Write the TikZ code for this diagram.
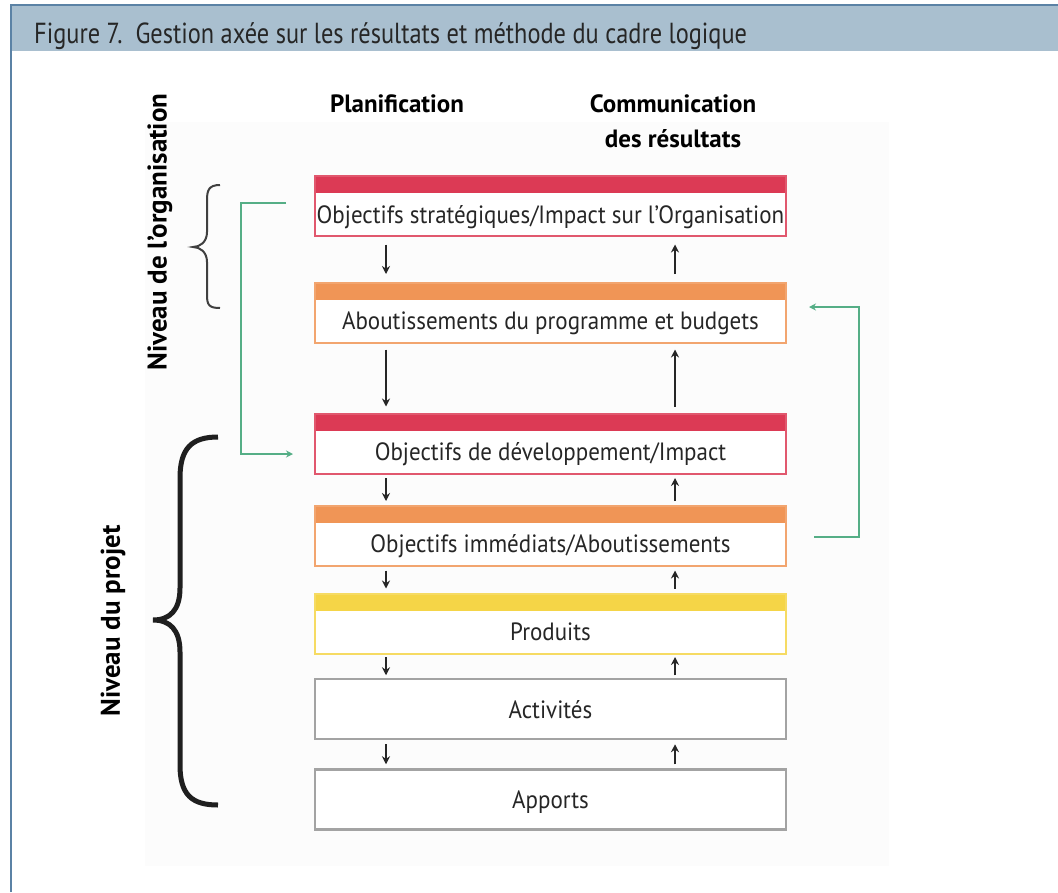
\documentclass[tikz,border=0pt]{standalone}
\usepackage{fontspec}
\setmainfont{PT Sans}
\newfontfamily\titlefont[FakeStretch=0.84]{PT Sans}
\newfontfamily\boxfont[FakeStretch=0.92]{PT Sans}
\usetikzlibrary{arrows.meta}
\definecolor{framebl}{HTML}{5B82A5}
\definecolor{headbg}{HTML}{A9BFCF}
\definecolor{panelbg}{HTML}{FCFCFC}
\definecolor{stratred}{HTML}{DC3A55}
\definecolor{progorange}{HTML}{F09556}
\definecolor{prodyellow}{HTML}{F5D547}
\definecolor{boxgrey}{HTML}{A3A3A3}
\definecolor{linkgreen}{HTML}{55AE86}
\definecolor{txtgrey}{HTML}{262626}

\begin{document}
\begin{tikzpicture}[x=1pt,y=-1pt]
		\tikzstyle{every node}+=[inner sep=0pt, text=txtgrey]
		\tikzset{
			level/.style={draw=#1!85, line width=2pt, fill=white, minimum width=471pt,
				text height=47pt, text depth=13pt, font=\boxfont\fontsize{25}{28}\selectfont,
				path picture={\fill[#1] (path picture bounding box.north west) rectangle ([yshift=-17pt]path picture bounding box.north east);}},
			plainlevel/.style={draw=boxgrey, line width=2.5pt, fill=white, minimum width=471pt,
				text height=39pt, text depth=21pt, font=\boxfont\fontsize{25}{28}\selectfont},
			heading/.style={font=\bfseries\fontsize{25}{35}\selectfont, text=black, align=center},
			sidelabel/.style={font=\bfseries\fontsize{27}{30}\selectfont, text=black, rotate=90},
			flow/.style={-{Stealth[length=8pt,width=8pt]}, line width=2pt, draw=txtgrey, shorten <=#1, shorten >=#1},
			flow/.default=4pt,
			link/.style={-{Stealth[length=7pt,width=7pt]}, line width=2pt, draw=linkgreen}
		}
		\useasboundingbox (0,0) rectangle (1058,892);
		% frame and title band
		\fill [headbg] (11,5) rectangle (1058,51);
		\draw [framebl, line width=2pt] (11,892) -- (11,5) -- (1058,5);
		\node [anchor=base west, font=\titlefont\fontsize{29}{32}\selectfont] (title) at (34,43) {Figure 7.~~Gestion axée sur les résultats et méthode du cadre logique};
		\fill [panelbg] (145,122) rectangle (889,866);
		% column headings
		\node [heading] (plan) at (397,104) {Planification};
		\node [heading] (comm) at (673,121) {Communication\\des résultats};
		% levels
		\node [level=stratred] (strat) at (550.5,206) {Objectifs stratégiques/Impact sur l’Organisation};
		\node [level=progorange] (progr) at (550.5,312.5) {Aboutissements du programme et budgets};
		\node [level=stratred] (devel) at (550.5,443.5) {Objectifs de développement/Impact};
		\node [level=progorange] (immed) at (550.5,535.5) {Objectifs immédiats/Aboutissements};
		\node [level=prodyellow] (produ) at (550.5,623.5) {Produits};
		\node [plainlevel] (activ) at (550.5,709) {Activités};
		\node [plainlevel] (appor) at (550.5,799.5) {Apports};
		% planning down, reporting up
		\coordinate (pl) at (386,0);
		\coordinate (co) at (675,0);
		\draw [flow=7.5pt] (strat.south -| pl) -- (progr.north -| pl);
		\draw [flow=7.5pt] (progr.north -| co) -- (strat.south -| co);
		\draw [flow=6pt] (progr.south -| pl) -- (devel.north -| pl);
		\draw [flow=6pt] (devel.north -| co) -- (progr.south -| co);
		\draw [flow=3.5pt] (devel.south -| pl) -- (immed.north -| pl);
		\draw [flow=3.5pt] (immed.north -| co) -- (devel.south -| co);
		\draw [flow] (immed.south -| pl) -- (produ.north -| pl);
		\draw [flow] (produ.north -| co) -- (immed.south -| co);
		\draw [flow=2.5pt] (produ.south -| pl) -- (activ.north -| pl);
		\draw [flow=2.5pt] (activ.north -| co) -- (produ.south -| co);
		\draw [flow] (activ.south -| pl) -- (appor.north -| pl);
		\draw [flow] (appor.north -| co) -- (activ.south -| co);
		% green links
		\coordinate (gstart) at ([shift={(-28,-3)}]strat.west);
		\coordinate (gend) at ([shift={(-21,10.5)}]devel.west);
		\draw [link] (gstart) -- (241,203) |- (gend);
		\coordinate (rstart) at ([shift={(27,1.5)}]immed.east);
		\coordinate (rend) at ([shift={(22,-5.5)}]progr.east);
		\draw [link] (rstart) -- (859,537) |- (rend);
		% braces
		\draw [black!75, line width=2pt] (220,185) .. controls (209,185) and (207,190) .. (207,200) -- (207,232) .. controls (207,242) and (200,247) .. (193,247) .. controls (200,247) and (207,252) .. (207,262) -- (207,295) .. controls (207,305) and (209,308) .. (220,308);
		\draw [black!88, line width=5pt] (218,437) .. controls (192,437) and (180,448) .. (180,478) -- (180,588) .. controls (180,610) and (170,620) .. (153,620) .. controls (170,620) and (180,630) .. (180,652) -- (180,765) .. controls (180,795) and (192,805) .. (218,805);
		\node [sidelabel] (orga) at (160,232) {Niveau de l’organisation};
		\node [sidelabel] (proj) at (113,621) {Niveau du projet};
\end{tikzpicture}
\end{document}
